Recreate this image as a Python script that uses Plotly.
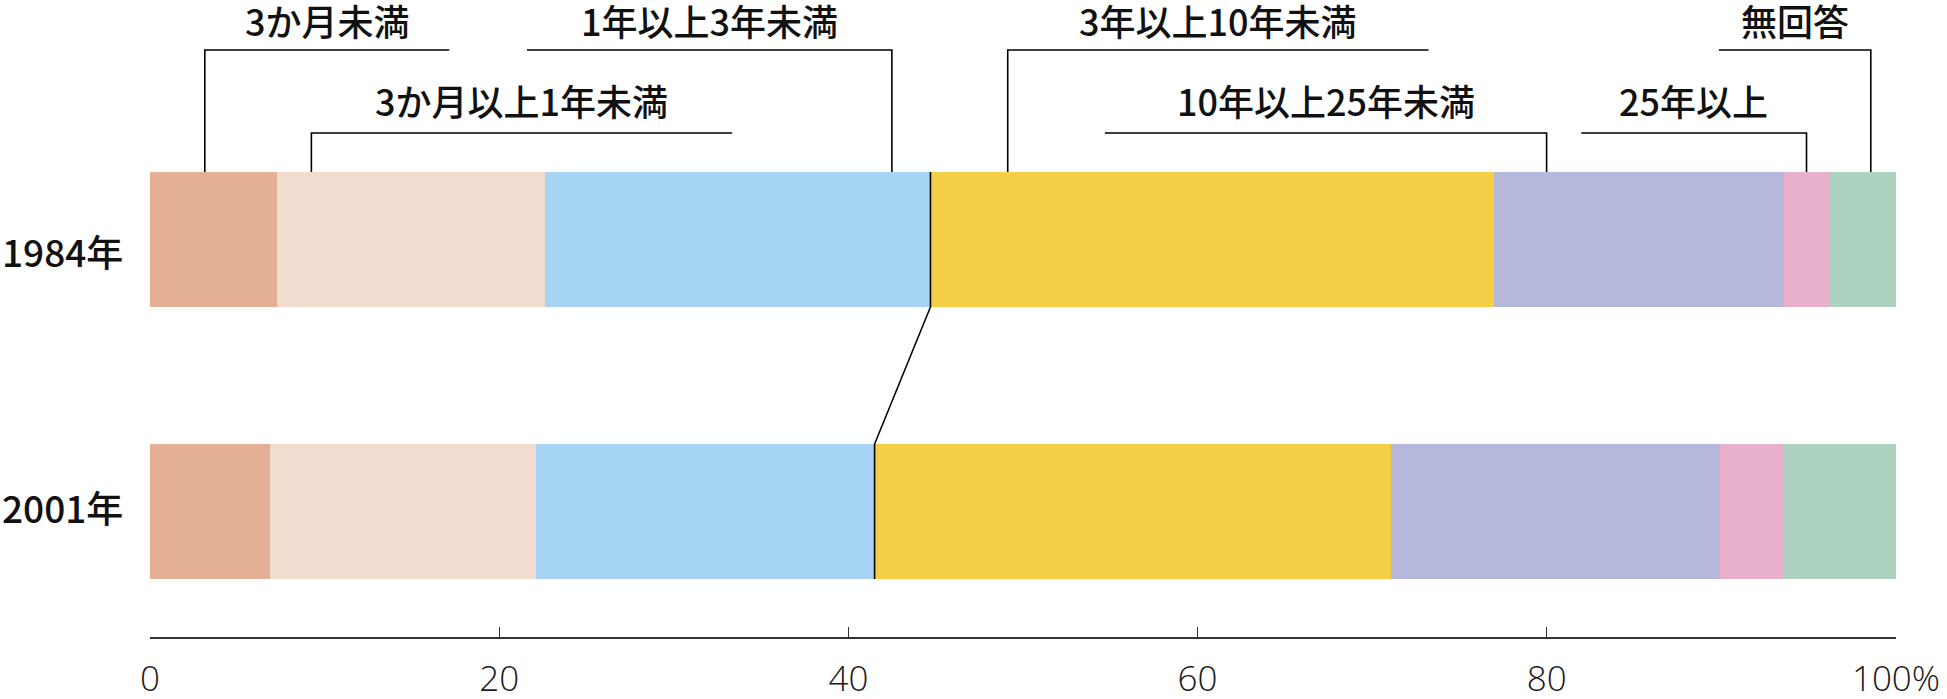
import plotly.graph_objects as go

# ---------------- data ----------------
years = ["1984年", "2001年"]
categories = ["3か月未満", "3か月以上1年未満", "1年以上3年未満", "3年以上10年未満",
              "10年以上25年未満", "25年以上", "無回答"]
values_1984 = [7.3, 15.3, 22.1, 32.3, 16.6, 2.6, 3.8]
values_2001 = [6.9, 15.2, 19.4, 29.6, 18.8, 3.7, 6.4]
tick_values = [0, 20, 40, 60, 80, 100]
tick_labels = ["0", "20", "40", "60", "80", "100%"]

# ---------------- styles / layout ----------------
colors = ["#E3B096", "#F2DCCF", "#A6D4F3", "#F5D047", "#B5B8DA", "#E8B1CB", "#ADD3C0"]
FONT = "Noto Sans CJK JP"
TICK_FONT = "Open Sans"
W, H = 1947, 699
PLOT_L, PLOT_R, PLOT_B = 150, 51, 62
ROW_PX = [239.5, 511.5]      # pixel centre of each bar
UNIT_PX = 272.0              # pixels per category step
BAR_W = 0.496


def py(p):
    """pixel row -> y data value"""
    return (p - ROW_PX[0]) / UNIT_PX


# label layout: (leader fraction inside 1984 segment, side of leader, line width %, row)
label_layout = [
    (0.43, "left", 14.0, 1),
    (0.127, "left", 24.1, 2),
    (0.90, "right", 20.9, 1),
    (0.137, "left", 24.1, 1),
    (0.18, "right", 25.3, 2),
    (0.49, "right", 12.9, 2),
    (0.62, "right", 8.7, 1),
]
row_line_px = {1: 50, 2: 133}
row_text_px = {1: 20, 2: 100}

fig = go.Figure()

series = [values_1984, values_2001]
for i, cat in enumerate(categories):
    fig.add_trace(go.Bar(
        y=[0, 1], x=[series[0][i], series[1][i]], orientation="h",
        name=cat, width=BAR_W, marker=dict(color=colors[i], line=dict(width=0)),
        showlegend=False, hoverinfo="x+name",
    ))

# divider polyline between 1年以上3年未満 and 3年以上10年未満
c84 = sum(values_1984[:3])
c01 = sum(values_2001[:3])
fig.add_trace(go.Scatter(
    x=[c84, c84, c01, c01],
    y=[-BAR_W / 2, BAR_W / 2, 1 - BAR_W / 2, 1 + BAR_W / 2],
    mode="lines", line=dict(color="#000000", width=1.6),
    showlegend=False, hoverinfo="skip",
))

# leader lines and labels
annotations = []
cum = 0.0
starts = []
for v in values_1984:
    starts.append(cum)
    cum += v
bar_top = -BAR_W / 2
for i, cat in enumerate(categories):
    frac, side, width, row = label_layout[i]
    lx = starts[i] + frac * values_1984[i]
    if side == "left":
        x0, x1 = lx, lx + width
    else:
        x0, x1 = lx - width, lx
    ly = py(row_line_px[row])
    if side == "left":
        xs, ys = [x1, x0, x0], [ly, ly, bar_top]
    else:
        xs, ys = [x0, x1, x1], [ly, ly, bar_top]
    fig.add_trace(go.Scatter(
        x=xs, y=ys, mode="lines", line=dict(color="#000000", width=1.6),
        showlegend=False, hoverinfo="skip",
    ))
    annotations.append(dict(
        x=(x0 + x1) / 2, y=py(row_text_px[row]), xref="x", yref="y",
        text=cat, showarrow=False, xanchor="center", yanchor="middle",
        font=dict(family=FONT, size=36, color="#111111", weight=500),
    ))

# year labels
year_text_px = [251, 507]
for j, yr in enumerate(years):
    annotations.append(dict(
        x=(0 - PLOT_L) / (W - PLOT_L - PLOT_R), y=py(year_text_px[j]),
        xref="paper", yref="y", text=yr, showarrow=False,
        xanchor="left", yanchor="middle",
        font=dict(family=FONT, size=37, color="#111111", weight=500),
    ))

y_bottom = py(H - PLOT_B)
y_top = py(0)

fig.update_layout(
    width=W, height=H, barmode="stack",
    margin=dict(l=PLOT_L, r=PLOT_R, t=0, b=PLOT_B, pad=0, autoexpand=False),
    paper_bgcolor="#FFFFFF", plot_bgcolor="#FFFFFF",
    annotations=annotations, bargap=0,
    xaxis=dict(
        range=[0, 100], tickvals=tick_values, ticktext=tick_labels,
        showgrid=False, zeroline=False, showline=True, linecolor="#333333",
        linewidth=2, ticks="inside", ticklen=10, tickwidth=1, tickcolor="#333333",
        tickfont=dict(family=TICK_FONT, size=35, color="#1a1a1a", weight=300),
        ticklabelstandoff=10, fixedrange=True, automargin=False,
    ),
    yaxis=dict(
        range=[y_bottom, y_top], showticklabels=False, showgrid=False,
        zeroline=False, showline=False, ticks="", fixedrange=True, automargin=False,
    ),
)

fig.write_html("out.html", config={"displayModeBar": False},
               post_script="document.body.style.margin='0';")
